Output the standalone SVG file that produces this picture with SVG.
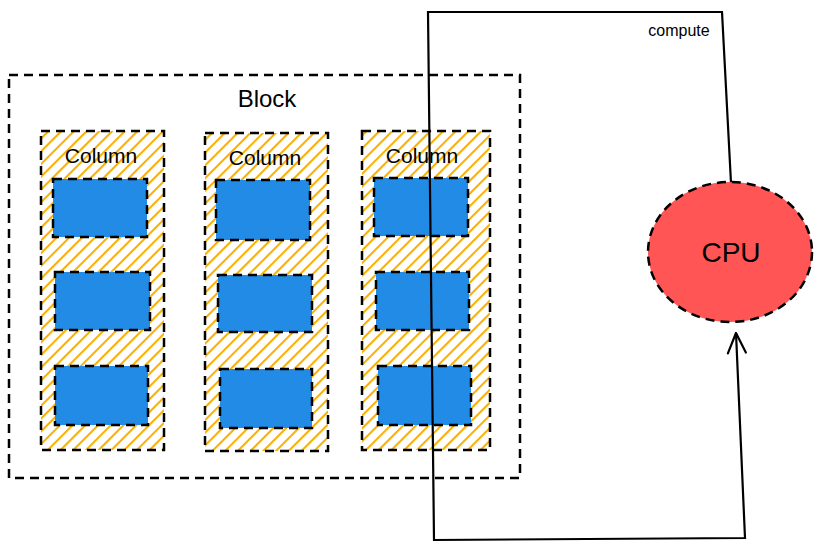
<svg xmlns="http://www.w3.org/2000/svg" width="822" height="550" viewBox="0 0 822 550">
<defs>
<pattern id="hatch" patternUnits="userSpaceOnUse" width="9" height="9" patternTransform="rotate(45)">
<line x1="1" y1="0" x2="1" y2="9" stroke="#fab005" stroke-width="2.2"/>
</pattern>
<marker id="arrow" viewBox="0 0 24 24" refX="22" refY="12" markerWidth="24" markerHeight="24" markerUnits="userSpaceOnUse" orient="auto">
<path d="M2,3 L22,12 L2,21" fill="none" stroke="#000" stroke-width="2.2" stroke-linecap="round" stroke-linejoin="round"/>
</marker>
</defs>
<style>
.dash{fill:none;stroke:#000;stroke-width:2.5;stroke-dasharray:9 6}
.col{fill:url(#hatch);stroke:#000;stroke-width:2.5;stroke-dasharray:9 6}
.cell{fill:#228be6;stroke:#000;stroke-width:2.5;stroke-dasharray:9 6}
.lbl{font-family:"Liberation Sans",Arial,sans-serif;fill:#000;text-anchor:middle}
.conn{fill:none;stroke:#000;stroke-width:2.2}
</style>
<g id="block">
<rect class="dash" x="9" y="75" width="511" height="403"/>
<text class="lbl" x="267" y="107" font-size="24">Block</text>
</g>
<g id="column1">
<rect class="col" x="41" y="131" width="123" height="319"/>
<text class="lbl" x="101" y="163" font-size="21">Column</text>
<rect class="cell" x="53" y="179" width="94" height="58"/>
<rect class="cell" x="55" y="272" width="95" height="58"/>
<rect class="cell" x="55" y="366" width="93" height="59"/>
</g>
<g id="column2">
<rect class="col" x="205" y="133" width="123" height="318"/>
<text class="lbl" x="265" y="165" font-size="21">Column</text>
<rect class="cell" x="216" y="180" width="94" height="60"/>
<rect class="cell" x="218" y="275" width="94" height="57"/>
<rect class="cell" x="220" y="369" width="92" height="59"/>
</g>
<g id="column3">
<rect class="col" x="362" y="131" width="128" height="319"/>
<text class="lbl" x="422" y="163" font-size="21">Column</text>
<rect class="cell" x="374" y="178" width="94" height="58"/>
<rect class="cell" x="376" y="272" width="93" height="58"/>
<rect class="cell" x="378" y="366" width="93" height="59"/>
</g>
<g id="connectors">
<path class="conn" d="M731,183 L722,12 L428,12 L434,540 L745,538 L736,333" marker-end="url(#arrow)"/>
<text class="lbl" x="679" y="36" font-size="16">compute</text>
</g>
<g id="cpu">
<ellipse cx="730" cy="252" rx="82" ry="70" fill="#ff5555" stroke="#000" stroke-width="2.5" stroke-dasharray="9 6"/>
<text class="lbl" x="731" y="262" font-size="28">CPU</text>
</g>
</svg>
